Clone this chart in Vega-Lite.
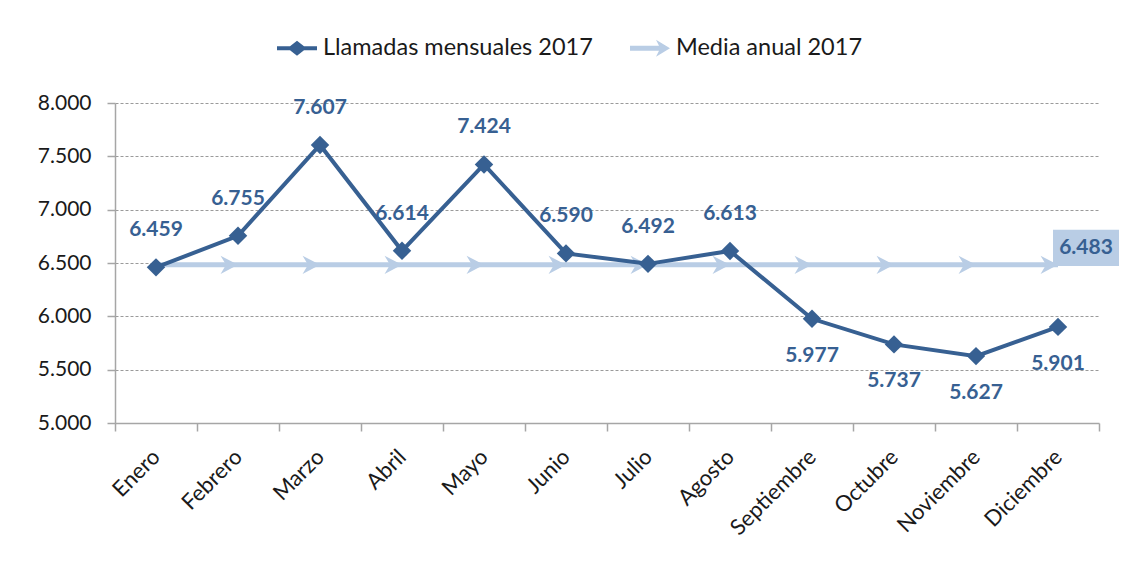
{
  "$schema": "https://vega.github.io/schema/vega-lite/v6.json",
  "autosize": {"type": "none"},
  "padding": {"left": 115, "top": 103, "right": 29, "bottom": 139},
  "width": 984,
  "height": 320,
  "background": "white",
  "config": {
    "locale": {"number": {"decimal": ",", "thousands": ".", "grouping": [3], "currency": ["", " €"]}},
    "view": {"stroke": null},
    "font": "Lato"
  },
  "data": {
    "values": [
      {"mes": "Enero", "llamadas": 6459, "media": 6483},
      {"mes": "Febrero", "llamadas": 6755, "media": 6483},
      {"mes": "Marzo", "llamadas": 7607, "media": 6483},
      {"mes": "Abril", "llamadas": 6614, "media": 6483},
      {"mes": "Mayo", "llamadas": 7424, "media": 6483},
      {"mes": "Junio", "llamadas": 6590, "media": 6483},
      {"mes": "Julio", "llamadas": 6492, "media": 6483},
      {"mes": "Agosto", "llamadas": 6613, "media": 6483},
      {"mes": "Septiembre", "llamadas": 5977, "media": 6483},
      {"mes": "Octubre", "llamadas": 5737, "media": 6483},
      {"mes": "Noviembre", "llamadas": 5627, "media": 6483},
      {"mes": "Diciembre", "llamadas": 5901, "media": 6483}
    ]
  },
  "encoding": {
    "x": {
      "field": "mes", "type": "nominal", "sort": null,
      "scale": {"type": "band", "paddingInner": 0, "paddingOuter": 0},
      "axis": {
        "title": null, "labelAngle": -45, "labelAlign": "right", "labelBaseline": "middle",
        "labelFontSize": 22, "labelColor": "#1a1a1a", "labelFont": "Lato", "labelPadding": 22,
        "tickBand": "extent", "tickSize": 8, "tickColor": "#a6a6a6", "domainColor": "#a6a6a6",
        "domainWidth": 1.5, "tickWidth": 1.5, "grid": false, "labelLimit": 0
      }
    }
  },
  "layer": [
    {
      "mark": {"type": "line", "strokeWidth": 5},
      "encoding": {
        "y": {
          "field": "media", "type": "quantitative",
          "scale": {"domain": [5000, 8000], "nice": false, "zero": false},
          "axis": {
            "title": null, "values": [5000, 5500, 6000, 6500, 7000, 7500, 8000], "format": ",.0f",
            "labelFontSize": 21, "labelColor": "#1a1a1a", "labelFont": "Lato", "labelPadding": 16,
            "tickSize": 8, "tickColor": "#a6a6a6", "domainColor": "#a6a6a6", "domainWidth": 1.5, "tickWidth": 1.5,
            "grid": true, "gridColor": "#9a9a9a", "gridDash": [3, 2], "gridWidth": 1
          }
        },
        "color": {
          "datum": "Media anual 2017", "type": "nominal",
          "scale": {"domain": ["Llamadas mensuales 2017", "Media anual 2017"], "range": ["#376092", "#B9CDE5"]},
          "legend": {
            "orient": "none", "legendX": 162, "legendY": -75, "direction": "horizontal", "title": null,
            "symbolSize": 1600, "labelFontSize": 23.5, "labelFont": "Lato", "labelColor": "#1a1a1a",
            "columnPadding": 37, "labelOffset": 6, "labelLimit": 0,
            "encode": {
              "symbols": {
                "update": {
                  "shape": {"signal": "datum.value === 'Media anual 2017' ? 'M -1 -0.12 L 0.45 -0.12 L 0.3 -0.42 L 1 0 L 0.3 0.42 L 0.45 0.12 L -1 0.12 Z' : 'M -1 -0.1 L -0.35 -0.1 L 0 -0.38 L 0.35 -0.1 L 1 -0.1 L 1 0.1 L 0.35 0.1 L 0 0.38 L -0.35 0.1 L -1 0.1 Z'"},
                  "fill": {"scale": "color", "field": "value"},
                  "stroke": {"value": "transparent"},
                  "strokeWidth": {"value": 0},
                  "opacity": {"value": 1},
                  "fillOpacity": {"value": 1}
                }
              }
            }
          }
        }
      }
    },
    {
      "transform": [{"filter": "datum.mes !== 'Enero'"}],
      "mark": {"type": "point", "filled": true, "opacity": 1, "size": 1900, "shape": "M 0 0 L -0.8 -0.42 L -0.55 0 L -0.8 0.42 Z"},
      "encoding": {
        "y": {"field": "media", "type": "quantitative"},
        "color": {"datum": "Media anual 2017", "type": "nominal"}
      }
    },
    {
      "mark": {"type": "line", "strokeWidth": 4},
      "encoding": {
        "y": {"field": "llamadas", "type": "quantitative"},
        "color": {"datum": "Llamadas mensuales 2017", "type": "nominal"}
      }
    },
    {
      "mark": {"type": "point", "filled": true, "opacity": 1, "shape": "diamond", "size": 340},
      "encoding": {
        "y": {"field": "llamadas", "type": "quantitative"},
        "color": {"datum": "Llamadas mensuales 2017", "type": "nominal"}
      }
    },
    {
      "transform": [{"filter": "datum.llamadas >= 6000"}],
      "mark": {"type": "text", "dy": -37, "fontSize": 21, "fontWeight": "bold", "font": "Lato", "color": "#376092"},
      "encoding": {
        "y": {"field": "llamadas", "type": "quantitative"},
        "text": {"field": "llamadas", "type": "quantitative", "format": ",.0f"}
      }
    },
    {
      "transform": [{"filter": "datum.llamadas < 6000"}],
      "mark": {"type": "text", "dy": 37, "fontSize": 21, "fontWeight": "bold", "font": "Lato", "color": "#376092"},
      "encoding": {
        "y": {"field": "llamadas", "type": "quantitative"},
        "text": {"field": "llamadas", "type": "quantitative", "format": ",.0f"}
      }
    },
    {
      "transform": [{"filter": "datum.mes === 'Diciembre'"}],
      "mark": {"type": "point", "filled": true, "opacity": 1, "color": "#B9CDE5", "size": 4356, "xOffset": 28, "yOffset": -17, "shape": "M -1 -0.55 L 1 -0.55 L 1 0.55 L -1 0.55 Z"},
      "encoding": {
        "y": {"field": "media", "type": "quantitative"}
      }
    },
    {
      "transform": [{"filter": "datum.mes === 'Diciembre'"}],
      "mark": {"type": "text", "fontSize": 21, "fontWeight": "bold", "font": "Lato", "color": "#376092", "xOffset": 28, "yOffset": -17},
      "encoding": {
        "y": {"field": "media", "type": "quantitative"},
        "text": {"field": "media", "type": "quantitative", "format": ",.0f"}
      }
    }
  ]
}
